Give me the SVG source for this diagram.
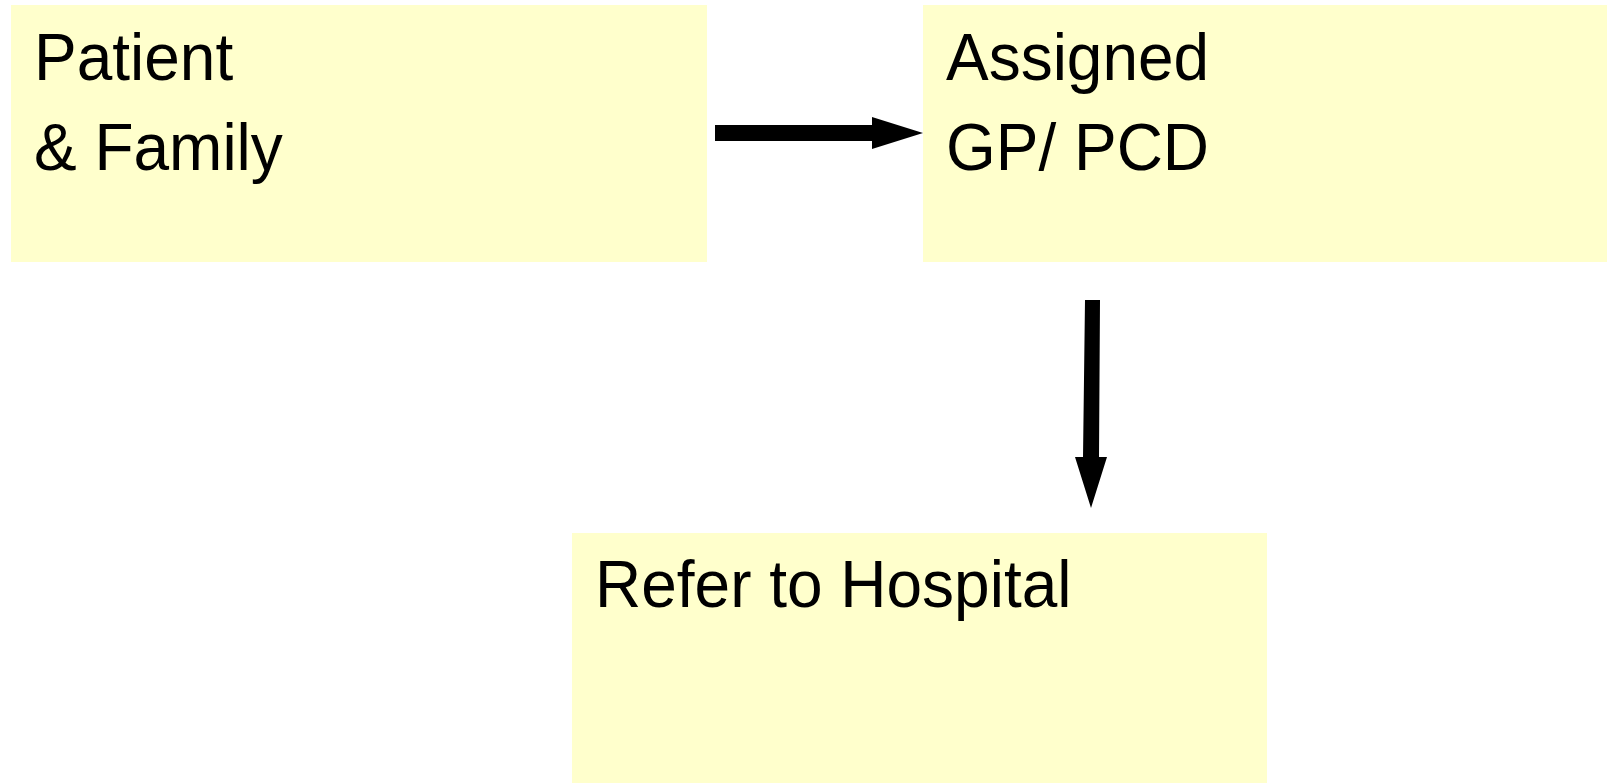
<svg xmlns="http://www.w3.org/2000/svg" width="1607" height="783" viewBox="0 0 1607 783">
<style>
.box{fill:#FFFFCC;stroke:none}
.lbl{font-family:"Liberation Sans",Arial,sans-serif;font-size:67px;fill:#000}
.arr{fill:#000;stroke:none}
</style>
<rect width="1607" height="783" fill="#fff"/>
<g id="node-patient">
<rect class="box" x="11" y="5" width="696" height="257"/>
<text class="lbl" transform="matrix(0.955 0 0 1 34 80)">Patient</text>
<text class="lbl" transform="matrix(0.955 0 0 1 34 170)">&amp; Family</text>
</g>
<g id="node-gp">
<rect class="box" x="923" y="5" width="684" height="257"/>
<text class="lbl" transform="matrix(0.955 0 0 1 946 80)">Assigned</text>
<text class="lbl" transform="matrix(0.955 0 0 1 946 170)">GP/ PCD</text>
</g>
<g id="node-hospital">
<rect class="box" x="572" y="533" width="695" height="250"/>
<text class="lbl" transform="matrix(0.955 0 0 1 595 607)">Refer to Hospital</text>
</g>
<g id="connectors">
<polygon class="arr" points="715,125 872,125 872,117 923,133 872,149 872,141 715,141"/>
<polygon class="arr" points="1085,300 1100,300 1099,457 1107,457 1091,508 1075,457 1083,457"/>
</g>
</svg>
